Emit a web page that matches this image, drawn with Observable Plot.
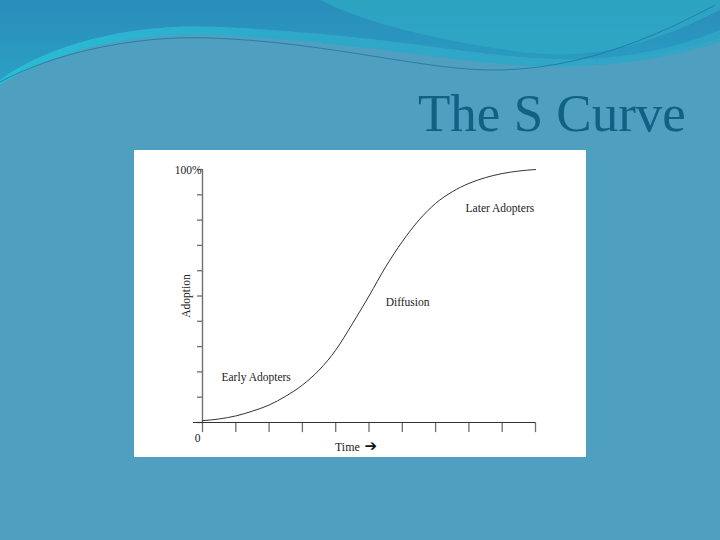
<!DOCTYPE html>
<html>
<head>
<meta charset="utf-8">
<script src="https://cdn.jsdelivr.net/npm/d3@7"></script>
<script src="https://cdn.jsdelivr.net/npm/@observablehq/plot@0.6"></script>
<style>
  html, body { margin: 0; padding: 0; }
  body { width: 720px; height: 540px; overflow: hidden; }
  #slide { position: relative; width: 720px; height: 540px; background: #4f9fc0; overflow: hidden; }
  #deco { position: absolute; left: 0; top: 0; }
  #title { position: absolute; left: 418px; top: 83px; font-family: "Liberation Serif", "DejaVu Serif", serif;
           font-size: 53px; color: #0f6283; line-height: 60px; white-space: nowrap; }
  #chart { position: absolute; left: 134px; top: 150px; width: 452px; height: 307px; background: #fff; }
  #chart svg { display: block; }
</style>
</head>
<body>
<div id="slide">
  <svg id="deco" width="720" height="90" viewBox="0 0 720 90">
    <defs>
      <linearGradient id="g1" x1="0" y1="0" x2="0" y2="1">
        <stop offset="0" stop-color="#2a8cba"/>
        <stop offset="1" stop-color="#2aa0c4"/>
      </linearGradient>
      <linearGradient id="g2" x1="0" y1="0" x2="1" y2="0">
        <stop offset="0" stop-color="#22c3d8"/>
        <stop offset="0.4" stop-color="#27aacb"/>
        <stop offset="1" stop-color="#2fa6c6"/>
      </linearGradient>
    </defs>
    <rect x="0" y="0" width="720" height="90" fill="#4f9fc0"/>
    <path d="M0,0 H720 V38 C660,58 600,62 530,58 C450,52 380,35 220,27 C120,22 40,50 0,80 Z" fill="url(#g1)"/>
    <path d="M0,80 C40,50 120,22 220,27 C380,35 450,52 530,58 C600,62 660,55 720,30 V42 C660,62 600,68 530,66 C450,62 380,45 220,35 C120,30 40,58 0,85 Z" fill="url(#g2)" opacity="0.85"/>
    <path d="M320,0 C360,20 420,38 520,52 C600,62 660,40 720,10 V0 Z" fill="#2ea9c4" opacity="0.8"/>
    <path d="M0,82 C50,55 130,35 210,38 C330,42 430,72 500,70 C580,68 650,40 715,5" fill="none" stroke="#1d6f9a" stroke-width="1" opacity="0.7"/>
  </svg>
  <div id="title">The S Curve</div>
  <div id="chart"></div>
</div>
<script>
// Data
const timeTicks = [0, 1, 2, 3, 4, 5, 6, 7, 8, 9, 10];
const adoptionTicks = [0, 10, 20, 30, 40, 50, 60, 70, 80, 90, 100];
const curveX = [0, 0.5, 1, 1.5, 2, 2.5, 3, 3.5, 4, 4.5, 5, 5.5, 6, 6.5, 7, 7.5, 8, 8.5, 9, 9.5, 10];
const curveY = [0.7, 1.4, 2.6, 4.5, 6.9, 10.4, 14.8, 20.7, 28.6, 39, 50, 61.5, 71.5, 80, 86.6, 91.2, 94.5, 96.8, 98.4, 99.4, 100];
const labelText = ["Early Adopters", "Diffusion", "Later Adopters"];
const labelX = [0.57, 5.5, 7.9];
const labelY = [17.7, 47.6, 84.5];

const curve = curveX.map((x, i) => ({x, y: curveY[i]}));
const labels = labelText.map((t, i) => ({t, x: labelX[i], y: labelY[i]}));

const ink = "#222";
const axisGray = "#6f6f6f";
const serif = "'Liberation Serif', 'DejaVu Serif', serif";

const plot = Plot.plot({
  width: 452,
  height: 307,
  marginLeft: 68,
  marginRight: 51,
  marginTop: 19,
  marginBottom: 35,
  style: {fontFamily: serif, fontSize: "11.5px", color: ink, background: "#fff", overflow: "visible"},
  x: {domain: [0, 10], axis: null},
  y: {domain: [0, 100], axis: null},
  marks: [
    Plot.ruleX(timeTicks, {x: d => d, y1: 0, y2: -4.0, stroke: axisGray, strokeWidth: 1.3}),
    Plot.ruleY(adoptionTicks, {y: d => d, x1: -0.15, x2: 0, stroke: axisGray, strokeWidth: 1.3}),
    Plot.ruleX([0], {y1: 0, y2: 100, stroke: axisGray, strokeWidth: 1.4}),
    Plot.ruleY([0], {x1: -0.27, x2: 10, stroke: "#333", strokeWidth: 1.2}),
    Plot.line(curve, {x: "x", y: "y", curve: "monotone-x", stroke: "#333", strokeWidth: 1}),
    Plot.text(labels, {x: "x", y: "y", text: "t", textAnchor: "start", fill: ink, fontSize: 11.5}),
    Plot.text(["100%"], {x: 0, y: 100, text: d => d, textAnchor: "end", dx: -1, dy: 1, fill: ink, fontSize: 11.5}),
    Plot.text(["0"], {x: 0, y: 0, text: d => d, textAnchor: "end", dx: -2, dy: 16, fill: ink, fontSize: 11.5}),
    Plot.text(["Time"], {x: 4.35, y: 0, text: d => d, textAnchor: "middle", dy: 25, fill: ink, fontSize: 12}),
    Plot.text(["\u2794"], {x: 5.05, y: 0, text: d => d, textAnchor: "middle", dy: 24, fill: "#111", fontSize: 15, fontFamily: "DejaVu Sans"}),
    Plot.text(["Adoption"], {x: 0, y: 50, text: d => d, rotate: -90, dx: -16, fill: ink, fontSize: 11.5})
  ]
});
document.getElementById("chart").appendChild(plot);
</script>
</body>
</html>
